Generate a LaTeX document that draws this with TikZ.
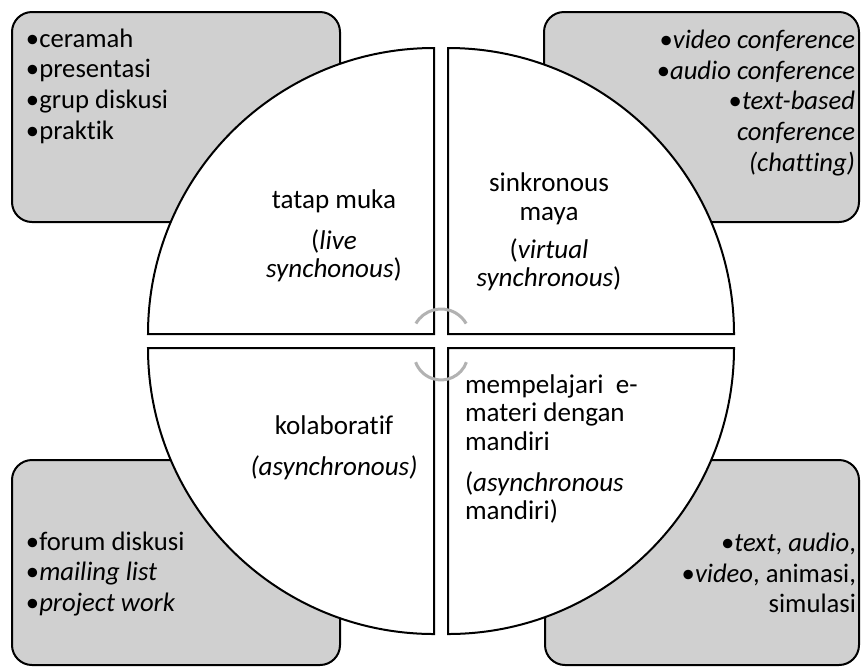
\documentclass[tikz,border=0pt]{standalone}
\usepackage{fontspec}
\setmainfont[Ligatures=NoCommon]{Carlito}
\definecolor{boxgray}{RGB}{208,208,208}
\definecolor{arcgray}{RGB}{178,178,178}
\tikzset{every picture/.style={line width=1.5pt},
  listbox/.style={draw, fill=boxgray, rounded corners=15pt},
  quadrant/.style={draw, fill=white},
  linkarc/.style={draw=arcgray, line width=2.25pt},
  txt/.style={inner sep=0pt, font=\fontsize{20.3}{21.5}\selectfont},
  listtxt/.style={inner sep=0pt, font=\fontsize{20}{23}\selectfont}}

\begin{document}
\begin{tikzpicture}[x=0.75pt,y=0.75pt,yscale=-1,xscale=1]
	\useasboundingbox (0,0) rectangle (863,669);

	%Shape: Rounded Rect [id:boxTL]
	\draw [listbox] (12,12) rectangle (340,222) ;
	%Shape: Rounded Rect [id:boxTR]
	\draw [listbox] (544,12) rectangle (859,222) ;
	%Shape: Rounded Rect [id:boxBL]
	\draw [listbox] (12,460) rectangle (340,665) ;
	%Shape: Rounded Rect [id:boxBR]
	\draw [listbox] (545,460) rectangle (859,665) ;

	%Shape: Quarter Circle [id:quadTL]
	\draw [quadrant] (434,334) -- (148,334) arc [start angle=180, end angle=270, radius=286] -- cycle ;
	%Shape: Quarter Circle [id:quadTR]
	\draw [quadrant] (448,334) -- (448,48) arc [start angle=270, end angle=360, radius=286] -- cycle ;
	%Shape: Quarter Circle [id:quadBL]
	\draw [quadrant] (434,348) -- (434,634) arc [start angle=90, end angle=180, radius=286] -- cycle ;
	%Shape: Quarter Circle [id:quadBR]
	\draw [quadrant] (448,348) -- (734,348) arc [start angle=0, end angle=90, radius=286] -- cycle ;

	%Shape: Arc [id:arcUp]
	\draw [linkarc] (415.9,323.5) arc [start angle=210, end angle=330, radius=29] ;
	%Shape: Arc [id:arcDown]
	\draw [linkarc] (466.4,362.2) arc [start angle=20, end angle=160, radius=27] ;

	% Text Node
	\node [listtxt, anchor=west, align=left] (listTL) at (25,86) {•ceramah\\•presentasi\\•grup diskusi\\•praktik};
	% Text Node
	\node [listtxt, anchor=east, align=right] (listTR) at (856,103) {•\textit{video conference}\\•\textit{audio conference}\\•\textit{text-based}\\\textit{conference}\\\textit{(chatting)}};
	% Text Node
	\node [listtxt, anchor=west, align=left] (listBL) at (25,574) {•forum diskusi\\•\textit{mailing list}\\•\textit{project work}};
	% Text Node
	\node [listtxt, anchor=east, align=right] (listBR) at (857,573) {•\textit{text}, \textit{audio},\\•\textit{video}, animasi,\\simulasi};

	% Text Node
	\node [txt, align=center] (live) at (334,236) {tatap muka\\[9pt](\textit{live}\\\textit{synchonous})};
	% Text Node
	\node [txt, align=center] (virtual) at (549,232) {sinkronous\\maya\\[7pt](\textit{virtual}\\\textit{synchronous})};
	% Text Node
	\node [txt, align=center] (kolab) at (334,448) {kolaboratif\\[9pt]\textit{(asynchronous)}};
	% Text Node
	\node [txt, anchor=west, align=left] (mandiri) at (464,449) {mempelajari\ \ e-\\materi dengan\\mandiri\\[9pt](\textit{asynchronous}\\mandiri)};

\end{tikzpicture}
\end{document}
